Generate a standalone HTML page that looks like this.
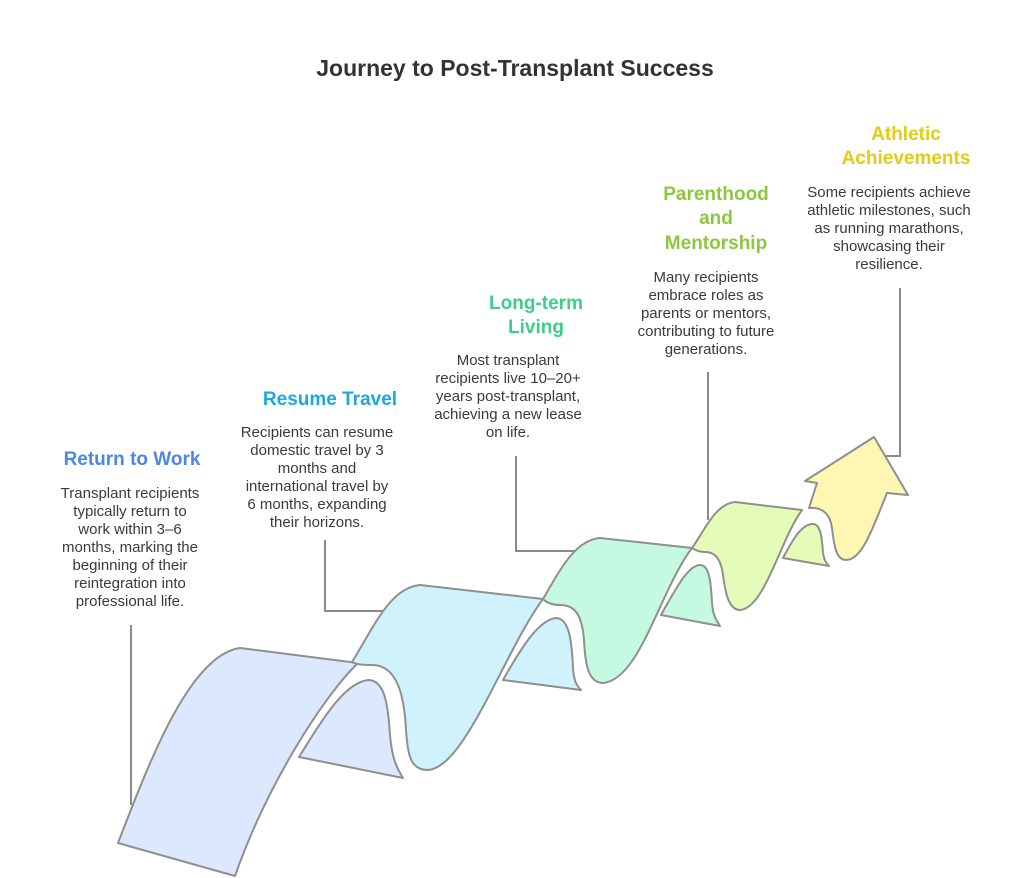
<!DOCTYPE html>
<html><head><meta charset="utf-8"><style>
html,body{margin:0;padding:0;background:#fff;}
svg{display:block;}
.h{font-family:"Liberation Sans",sans-serif;font-weight:bold;font-size:19px;text-anchor:middle;}
.b{font-family:"Liberation Sans",sans-serif;font-size:15px;fill:#3a3a3a;text-anchor:middle;}
</style></head><body>
<svg width="1025" height="878" viewBox="0 0 1025 878" xmlns="http://www.w3.org/2000/svg">
<text x="515" y="76" class="h" style="font-size:23px;fill:#333">Journey to Post-Transplant Success</text>

<g fill="none" stroke="#8a8a8a" stroke-width="2">
<path d="M131,625 V805"/>
<path d="M325,540 V611 H388"/>
<path d="M516,456 V551 H575"/>
<path d="M708,372 V520"/>
<path d="M900,288 V456 H886"/>
</g>

<g stroke="#8f8f8f" stroke-width="2" stroke-linejoin="round">
<path fill="#dbe8fd" d="M299,757 C325,715 345,683 368,680 C385,680 388,705 390,735 C392,760 398,770 403,778 Z"/>
<path fill="#dbe8fd" d="M118,843 C150,760 190,655 240,648 L358,663 C320,700 265,790 235,876 Z"/>
<path fill="#d0f2fc" d="M503,680 C520,650 538,620 556,618 C570,618 572,645 573,668 C574,682 577,686 581,690 Z"/>
<path fill="#d0f2fc" d="M352,662 C375,625 390,588 420,585 L543,599 C505,650 465,768 428,770 C410,770 408,755 406,730 C404,690 395,665 372,665 C365,665 358,665 352,662 Z"/>
<path fill="#c6f9e1" d="M661,615 C675,590 688,565 700,565 C710,565 711,585 712,603 C713,615 716,620 720,626 Z"/>
<path fill="#c6f9e1" d="M543,599 C560,570 575,540 600,538 L692,548 C660,590 640,680 603,683 C587,683 585,660 584,640 C582,615 575,605 560,605 C552,605 547,603 543,599 Z"/>
<path fill="#e5fbb8" d="M783,558 C795,535 803,524 813,524 C821,524 822,540 823,552 C824,560 826,563 829,566 Z"/>
<path fill="#e5fbb8" d="M692,548 C705,530 715,504 735,502 L802,510 C780,540 765,608 740,610 C728,610 725,590 723,575 C721,560 716,552 705,552 C699,552 695,550 692,548 Z"/>
<path fill="#fff6b3" d="M809,508 L817,483 L805,481 L874,437 L908,495 L887,493 C872,530 862,560 846,560 C836,560 834,545 832,528 C830,514 823,507 809,508 Z"/>
</g>

<text x="132" y="465" class="h" fill="#4f86e4">Return to Work</text>
<text x="130" y="498" class="b">Transplant recipients</text>
<text x="130" y="516" class="b">typically return to</text>
<text x="130" y="534" class="b">work within 3–6</text>
<text x="130" y="552" class="b">months, marking the</text>
<text x="130" y="570" class="b">beginning of their</text>
<text x="130" y="588" class="b">reintegration into</text>
<text x="130" y="606" class="b">professional life.</text>

<text x="330" y="405" class="h" fill="#1ea7dc">Resume Travel</text>
<text x="317" y="437" class="b">Recipients can resume</text>
<text x="317" y="455" class="b">domestic travel by 3</text>
<text x="317" y="473" class="b">months and</text>
<text x="317" y="491" class="b">international travel by</text>
<text x="317" y="509" class="b">6 months, expanding</text>
<text x="317" y="527" class="b">their horizons.</text>

<text x="536" y="309" class="h" fill="#3dcf8a">Long-term</text>
<text x="536" y="333" class="h" fill="#3dcf8a">Living</text>
<text x="508" y="365" class="b">Most transplant</text>
<text x="508" y="383" class="b">recipients live 10–20+</text>
<text x="508" y="401" class="b">years post-transplant,</text>
<text x="508" y="419" class="b">achieving a new lease</text>
<text x="508" y="437" class="b">on life.</text>

<text x="716" y="200" class="h" fill="#8dc63f">Parenthood</text>
<text x="716" y="224" class="h" fill="#8dc63f">and</text>
<text x="716" y="249" class="h" fill="#8dc63f">Mentorship</text>
<text x="706" y="282" class="b">Many recipients</text>
<text x="706" y="300" class="b">embrace roles as</text>
<text x="706" y="318" class="b">parents or mentors,</text>
<text x="706" y="336" class="b">contributing to future</text>
<text x="706" y="354" class="b">generations.</text>

<text x="906" y="140" class="h" fill="#e2cc15">Athletic</text>
<text x="906" y="164" class="h" fill="#e2cc15">Achievements</text>
<text x="889" y="197" class="b">Some recipients achieve</text>
<text x="889" y="215" class="b">athletic milestones, such</text>
<text x="889" y="233" class="b">as running marathons,</text>
<text x="889" y="251" class="b">showcasing their</text>
<text x="889" y="269" class="b">resilience.</text>
</svg>
</body></html>
